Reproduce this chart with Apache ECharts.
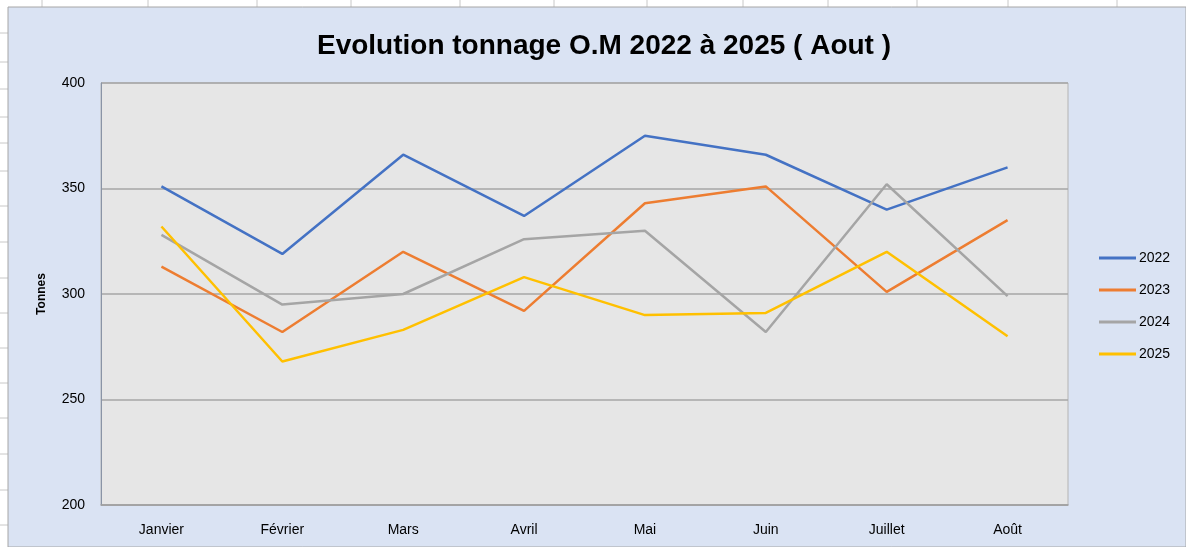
<!DOCTYPE html>
<html>
<head>
<meta charset="utf-8">
<script src="https://cdn.jsdelivr.net/npm/echarts@6/dist/echarts.min.js"></script>
<style>
  html, body { margin: 0; padding: 0; background: #fff; }
  #chart { width: 1186px; height: 547px; }
</style>
</head>
<body>
<div id="chart"></div>
<script>
const months = ["Janvier", "Février", "Mars", "Avril", "Mai", "Juin", "Juillet", "Août"];
const years = ["2022", "2023", "2024", "2025"];
const tonnes2022 = [351, 319, 366, 337, 375, 366, 340, 360];
const tonnes2023 = [313, 282, 320, 292, 343, 351, 301, 335];
const tonnes2024 = [328, 295, 300, 326, 330, 282, 352, 299];
const tonnes2025 = [332, 268, 283, 308, 290, 291, 320, 280];
const yTicks = [200, 250, 300, 350, 400];

const colors = ["#4472c4", "#ed7d31", "#a5a5a5", "#ffc000"];
const font = "Liberation Sans";

// spreadsheet cells peeking out behind the chart object
const colLines = [42, 148, 257, 351, 460, 554, 647, 743, 828, 917, 1008, 1117];
const rowLines = [33, 62, 89, 117, 143, 171, 206, 242, 278, 313, 348, 383, 418, 454, 490, 525];

const graphic = [];
colLines.forEach(x => graphic.push({
  type: "line", silent: true, z: -10,
  shape: { x1: x, y1: 0, x2: x, y2: 7 },
  style: { stroke: "#c8c8c8", lineWidth: 1 }
}));
rowLines.forEach(y => graphic.push({
  type: "line", silent: true, z: -10,
  shape: { x1: 0, y1: y, x2: 8, y2: y },
  style: { stroke: "#c8c8c8", lineWidth: 1 }
}));
graphic.push({
  type: "rect", silent: true, z: -5,
  shape: { x: 8, y: 7, width: 1178, height: 540 },
  style: { fill: "#dae3f3", stroke: "#a6a6a6", lineWidth: 1 }
});

const chart = echarts.init(document.getElementById("chart"), null, { renderer: "canvas" });

const seriesData = [tonnes2022, tonnes2023, tonnes2024, tonnes2025];

chart.setOption({
  animation: false,
  backgroundColor: "#ffffff",
  graphic: graphic,
  title: {
    text: "Evolution tonnage O.M 2022 à 2025 ( Aout )",
    left: 599,
    textAlign: "center",
    top: 27,
    textStyle: { fontFamily: font, fontWeight: "bold", fontSize: 28, color: "#000" }
  },
  legend: {
    orient: "vertical",
    left: 1094,
    top: 246,
    itemGap: 18,
    itemWidth: 37,
    itemHeight: 3,
    icon: "rect",
    data: years,
    textStyle: { fontFamily: font, fontSize: 14, color: "#000", padding: [0, 0, 0, -2] }
  },
  grid: {
    left: 101, top: 83, width: 967, height: 422,
    show: true,
    backgroundColor: "#e6e6e6",
    borderColor: "#b4b4b4",
    borderWidth: 1
  },
  xAxis: {
    type: "category",
    data: months,
    boundaryGap: true,
    axisLine: { show: true, lineStyle: { color: "#a0a0a0", width: 1.5 } },
    axisTick: { show: false },
    axisLabel: { fontFamily: font, fontSize: 14, color: "#000", margin: 18 }
  },
  yAxis: {
    type: "value",
    min: yTicks[0],
    max: yTicks[yTicks.length - 1],
    interval: 50,
    name: "Tonnes",
    nameLocation: "middle",
    nameGap: 53,
    nameRotate: 90,
    nameTextStyle: { fontFamily: font, fontWeight: "bold", fontSize: 12, color: "#000" },
    axisLine: { show: true, lineStyle: { color: "#8a94a6", width: 1 } },
    axisTick: { show: false },
    axisLabel: { fontFamily: font, fontSize: 14, color: "#000", margin: 16 },
    splitLine: { lineStyle: { color: "#a6a6a6", width: 1.5 } }
  },
  series: years.map((y, i) => ({
    name: y,
    type: "line",
    data: seriesData[i],
    color: colors[i],
    symbol: "none",
    lineStyle: { width: 2.5, color: colors[i] }
  }))
});
</script>
</body>
</html>
